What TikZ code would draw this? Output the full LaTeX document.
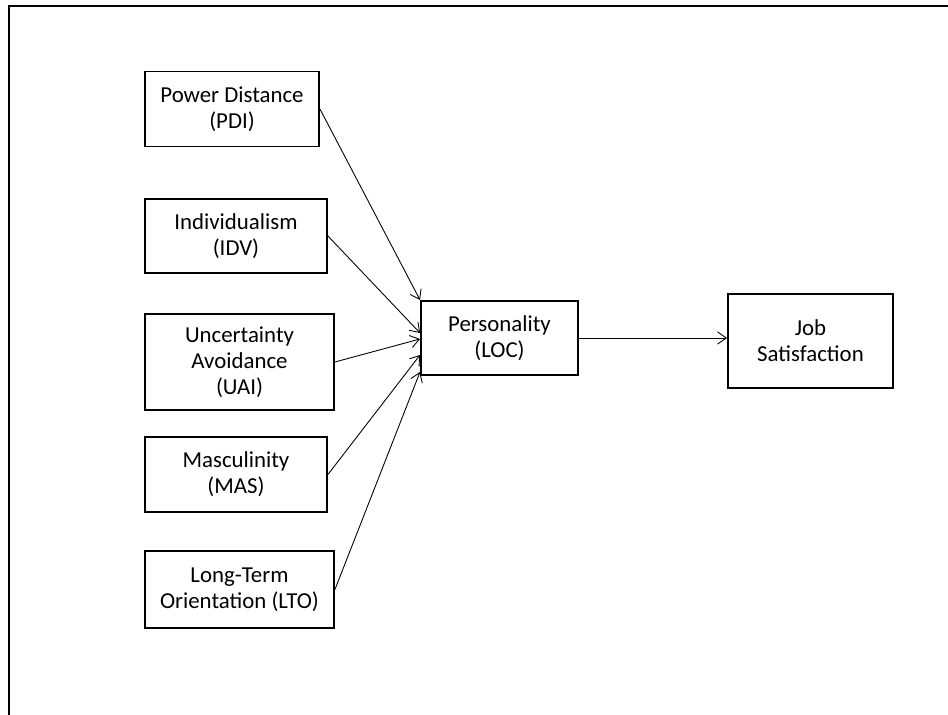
\documentclass[tikz,border=0pt]{standalone}
\usepackage{fontspec}
\setmainfont{Carlito}
\usetikzlibrary{arrows.meta}

\begin{document}
\begin{tikzpicture}[
      x=0.02cm, y=0.02cm,
      factor/.style={draw, line width=1.1pt, align=flush center, inner xsep=0.14cm, inner ysep=0pt, font=\fontsize{13}{14.8}\selectfont},
      link/.style={line width=0.5pt, -{Straight Barb[length=5pt,width=7pt]}}
    ]
    \useasboundingbox (0,0) rectangle (948,-715);
    % Frame
    \draw[line width=1.1pt] (9,-730) -- (9,-6) -- (960,-6);

    % Nodes
    \node[factor, text width=3.2cm, minimum height=1.5cm] (pdi) at (232,-109) {Power Distance\\(PDI)};
    \node[factor, text width=3.36cm, minimum height=1.48cm] (idv) at (236,-236) {Individualism\\(IDV)};
    \node[factor, text width=3.5cm, minimum height=1.92cm] (uai) at (239.5,-362) {Uncertainty\\Avoidance\\(UAI)};
    \node[factor, text width=3.36cm, minimum height=1.5cm] (mas) at (236,-474.5) {Masculinity\\(MAS)};
    \node[factor, text width=3.5cm, minimum height=1.54cm] (lto) at (239.5,-589.5) {Long-Term\\Orientation (LTO)};
    \node[factor, text width=2.86cm, minimum height=1.48cm] (loc) at (499.5,-338) {Personality\\(LOC)};
    \node[factor, text width=3.02cm, minimum height=1.88cm] (job) at (810.5,-341) {Job\\Satisfaction};

    % Arrows
    \draw[link] (pdi.east) -- (loc.north west);
    \draw[link] (idv.east) -- ([yshift=0.1cm]loc.west);
    \draw[link] (uai.east) -- ([yshift=-0.02cm]loc.west);
    \draw[link] (mas.east) -- ([yshift=-0.34cm]loc.west);
    \draw[link] (lto.east) -- ([yshift=0.08cm]loc.south west);
    \draw[link] (loc.east) -- (loc.east -| job.west);
\end{tikzpicture}
\end{document}
